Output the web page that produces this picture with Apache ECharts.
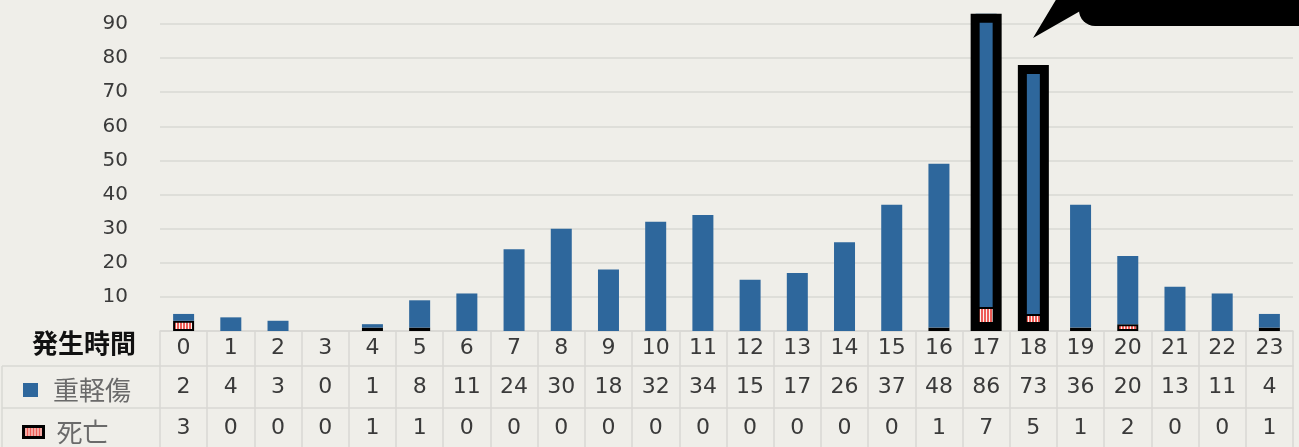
<!DOCTYPE html>
<html><head><meta charset="utf-8">
<script src="https://cdn.jsdelivr.net/npm/echarts@6/dist/echarts.min.js"></script>
<style>html,body{margin:0;padding:0;background:#efeee9;} #c{width:1299px;height:447px;}</style>
</head><body><div id="c"></div>
<script>
const hours = ['0','1','2','3','4','5','6','7','8','9','10','11','12','13','14','15','16','17','18','19','20','21','22','23'];
const injuries = [2,4,3,0,1,8,11,24,30,18,32,34,15,17,26,37,48,86,73,36,20,13,11,4];
const deaths   = [3,0,0,0,1,1,0,0,0,0,0,0,0,0,0,0,1,7,5,1,2,0,0,1];
const highlightHours = [17,18];
const rowHeader = '発生時間';
const injuryName = '重軽傷';
const deathName = '死亡';

const pc = document.createElement('canvas'); pc.width = 3; pc.height = 3;
const pctx = pc.getContext('2d');
pctx.fillStyle = '#fbf3ef'; pctx.fillRect(0,0,3,3);
pctx.fillStyle = '#ee5d57'; pctx.fillRect(0,0,2,3);
const stripe = {image: pc, repeat: 'repeat'};

const lineCol = '#d9d8d3';
const numFont = 'DejaVu Sans';
const cjkFont = 'Noto Sans CJK JP';
const textCol = '#3a3a3a';

function tableAxis(data, offset, tickLen, margin) {
  return {
    type: 'category', data: data, position: 'bottom', offset: offset,
    axisLine: {show: true, lineStyle: {color: lineCol, width: 1.5}},
    axisTick: {show: true, length: tickLen, interval: 0, lineStyle: {color: lineCol, width: 1.5}},
    axisLabel: {interval: 0, margin: margin, verticalAlign: 'middle', fontSize: 22, color: textCol, fontFamily: numFont}
  };
}

const chart = echarts.init(document.getElementById('c'));
chart.setOption({
  backgroundColor: '#efeee9',
  animation: false,
  grid: {left: 160, right: 6, top: 24, bottom: 116, containLabel: false},
  legend: [
    {data: [injuryName], left: 18, top: 372, itemWidth: 15, itemHeight: 14, selectedMode: false, icon: 'rect',
     textStyle: {fontSize: 26, color: '#6a6a6a', fontFamily: cjkFont, padding: [0,0,0,10]}},
    {data: [deathName], left: 17, top: 414, itemWidth: 20, itemHeight: 11, selectedMode: false, icon: 'rect',
     itemStyle: {borderColor: '#000', borderWidth: 3},
     textStyle: {fontSize: 26, color: '#6a6a6a', fontFamily: cjkFont, padding: [0,0,0,8]}}
  ],
  xAxis: [
    tableAxis(hours, 0, 35, 17),
    tableAxis(injuries.map(String), 35, 42, 21),
    tableAxis(deaths.map(String), 77, 40, 20),
    {type: 'category', data: hours, show: false, position: 'top'}
  ],
  yAxis: {
    type: 'value', min: 0, max: 90, interval: 10,
    axisLine: {show: false}, axisTick: {show: false},
    axisLabel: {formatter: v => v === 0 ? '' : String(v), fontSize: 20, color: textCol, margin: 32, fontFamily: numFont},
    splitLine: {lineStyle: {color: lineCol, width: 1.5}}
  },
  series: [
    {name: deathName, type: 'bar', stack: 'a', xAxisIndex: 0, barWidth: 21, clip: false,
     data: deaths.map(v => v === 0 ? '-' : v),
     itemStyle: {color: stripe, borderColor: '#000', borderWidth: 2}},
    {name: injuryName, type: 'bar', stack: 'a', xAxisIndex: 0, barWidth: 21, clip: false,
     data: injuries, itemStyle: {color: '#2e679c'}},
    {name: 'highlight', type: 'bar', xAxisIndex: 3, barWidth: 31, clip: false, z: 5, silent: true,
     data: hours.map((h, i) => highlightHours.includes(i) ? injuries[i] + deaths[i] : '-'),
     itemStyle: {color: 'rgba(0,0,0,0)', borderColor: '#000', borderWidth: 9}}
  ],
  graphic: [
    {type: 'text', left: 32, top: 330, z: 100, style: {text: rowHeader, font: 'bold 26px "Noto Sans CJK JP"', fill: '#111'}},
    {type: 'line', z: 100, shape: {x1: 2, y1: 366, x2: 160, y2: 366}, style: {stroke: lineCol, lineWidth: 1.5}},
    {type: 'line', z: 100, shape: {x1: 2, y1: 408, x2: 160, y2: 408}, style: {stroke: lineCol, lineWidth: 1.5}},
    {type: 'line', z: 100, shape: {x1: 2, y1: 366, x2: 2, y2: 447}, style: {stroke: lineCol, lineWidth: 1.5}},
    {type: 'rect', z: 100, shape: {x: 1079, y: -30, width: 260, height: 56, r: 16}, style: {fill: '#000'}},
    {type: 'polygon', z: 100, shape: {points: [[1033,38],[1057,-2],[1100,-2],[1100,22],[1082,10]]}, style: {fill: '#000'}}
  ]
});
</script></body></html>
